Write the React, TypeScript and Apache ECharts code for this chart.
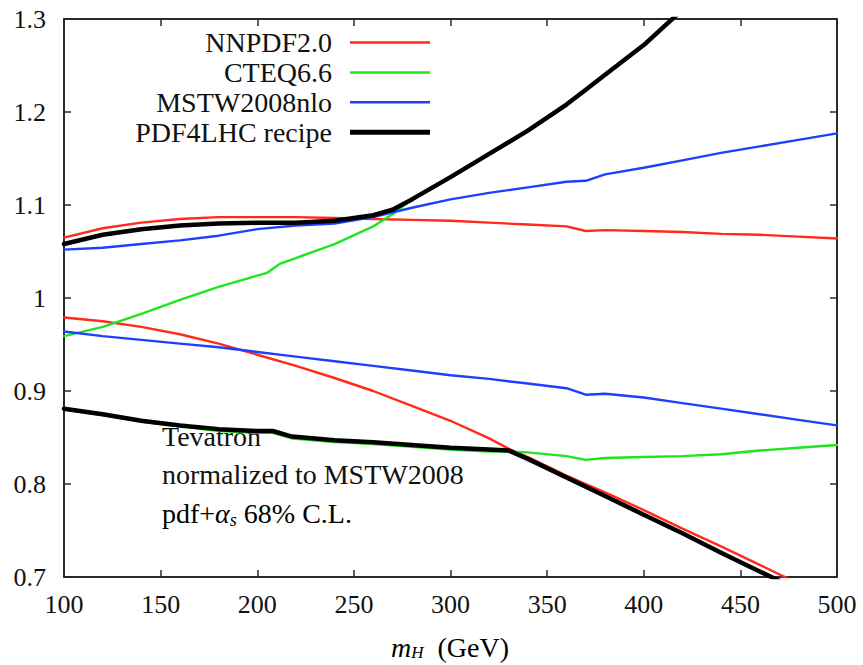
import React, { useEffect, useRef } from "react";
import * as echarts from "echarts";

// Higgs mass (GeV) vs ratio to MSTW2008 central value
const nnpdfUpper: [number, number][] = [
  [100, 1.065], [120, 1.075], [140, 1.081], [160, 1.085], [180, 1.087], [200, 1.087],
  [220, 1.087], [240, 1.086], [260, 1.085], [280, 1.084], [300, 1.083], [320, 1.081],
  [340, 1.079], [360, 1.077], [370, 1.072], [380, 1.073], [400, 1.072], [420, 1.071],
  [440, 1.069], [460, 1.068], [480, 1.066], [500, 1.064],
];
const nnpdfLower: [number, number][] = [
  [100, 0.979], [120, 0.975], [140, 0.969], [160, 0.961], [180, 0.951], [200, 0.939],
  [220, 0.927], [240, 0.914], [260, 0.9], [280, 0.884], [300, 0.868], [320, 0.849],
  [330, 0.838], [340, 0.829], [360, 0.809], [370, 0.8], [380, 0.791], [400, 0.772],
  [420, 0.752], [440, 0.733], [460, 0.713], [480, 0.693], [500, 0.673],
];
const cteqUpper: [number, number][] = [
  [100, 0.959], [120, 0.969], [140, 0.983], [160, 0.998], [180, 1.012], [200, 1.024],
  [205, 1.027], [212, 1.037], [220, 1.043], [240, 1.058], [260, 1.077], [270, 1.09],
  [280, 1.106], [300, 1.13], [320, 1.155], [340, 1.18], [360, 1.208], [370, 1.224],
  [380, 1.24], [400, 1.272], [420, 1.31], [440, 1.345], [460, 1.38], [480, 1.415], [500, 1.45],
];
const cteqLower: [number, number][] = [
  [100, 0.88], [120, 0.874], [140, 0.867], [160, 0.862], [180, 0.857], [200, 0.855],
  [208, 0.855], [218, 0.849], [240, 0.845], [260, 0.843], [280, 0.84], [300, 0.837],
  [320, 0.835], [330, 0.835], [340, 0.834], [360, 0.83], [370, 0.826], [380, 0.828],
  [400, 0.829], [420, 0.83], [440, 0.832], [460, 0.836], [480, 0.839], [500, 0.842],
];
const mstwUpper: [number, number][] = [
  [100, 1.052], [120, 1.054], [140, 1.058], [160, 1.062], [180, 1.067], [200, 1.074],
  [220, 1.078], [240, 1.08], [260, 1.087], [280, 1.097], [300, 1.106], [320, 1.113],
  [340, 1.119], [360, 1.125], [370, 1.126], [380, 1.133], [400, 1.14], [420, 1.148],
  [440, 1.156], [460, 1.163], [480, 1.17], [500, 1.177],
];
const mstwLower: [number, number][] = [
  [100, 0.964], [120, 0.959], [140, 0.955], [160, 0.951], [180, 0.947], [200, 0.942],
  [220, 0.937], [240, 0.932], [260, 0.927], [280, 0.922], [300, 0.917], [320, 0.913],
  [340, 0.908], [360, 0.903], [370, 0.896], [380, 0.897], [400, 0.893], [420, 0.887],
  [440, 0.881], [460, 0.875], [480, 0.869], [500, 0.863],
];
const pdf4lhcUpper: [number, number][] = [
  [100, 1.058], [120, 1.068], [140, 1.074], [160, 1.078], [180, 1.08], [200, 1.081],
  [220, 1.081], [240, 1.083], [250, 1.086], [260, 1.089], [270, 1.095], [280, 1.106],
  [300, 1.13], [320, 1.155], [340, 1.18], [360, 1.208], [370, 1.224], [380, 1.24],
  [400, 1.272], [420, 1.31], [440, 1.345], [460, 1.38], [480, 1.415], [500, 1.45],
];
const pdf4lhcLower: [number, number][] = [
  [100, 0.881], [120, 0.875], [140, 0.868], [160, 0.863], [180, 0.859], [200, 0.857],
  [208, 0.857], [218, 0.851], [240, 0.847], [260, 0.845], [280, 0.842], [300, 0.839],
  [320, 0.837], [330, 0.836], [340, 0.827], [360, 0.807], [370, 0.797], [380, 0.787],
  [400, 0.767], [420, 0.747], [440, 0.726], [460, 0.706], [480, 0.686], [500, 0.666],
];

const legendNames = ["NNPDF2.0", "CTEQ6.6", "MSTW2008nlo", "PDF4LHC recipe"];
const legendColors = ["#ff2a1a", "#1fe51f", "#1f3fff", "#000000"];
const annotationLines = ["Tevatron", "normalized to MSTW2008"];

const SERIF = "'Liberation Serif', 'Times New Roman', serif";

export default function App() {
  const ref = useRef<HTMLDivElement>(null);
  useEffect(() => {
    const chart = echarts.init(ref.current!, null, { renderer: "svg" });
    const mk = (name: string, data: [number, number][], color: string, width: number, z: number) => ({
      type: "line",
      name,
      data,
      showSymbol: false,
      symbol: "none",
      smooth: false,
      clip: true,
      z,
      lineStyle: { color, width, cap: "round", join: "round" },
    });
    const axisCommon = {
      type: "value",
      splitLine: { show: false },
      axisLine: { show: true, onZero: false, lineStyle: { color: "#2a2a2a", width: 2 } },
      axisTick: { show: true, inside: true, length: 7, lineStyle: { color: "#2a2a2a", width: 1.5 } },
    };
    chart.setOption({
      animation: false,
      backgroundColor: "#ffffff",
      grid: { left: 64, right: 26, top: 19, bottom: 88 },
      xAxis: [
        {
          ...axisCommon,
          min: 100,
          max: 500,
          interval: 50,
          position: "bottom",
          axisLabel: { color: "#111", fontFamily: SERIF, fontSize: 26, margin: 14 },
        },
        {
          ...axisCommon,
          min: 100,
          max: 500,
          interval: 50,
          position: "top",
          axisLabel: { show: false },
        },
      ],
      yAxis: [
        {
          ...axisCommon,
          min: 0.7,
          max: 1.3,
          interval: 0.1,
          position: "left",
          axisLabel: {
            color: "#111",
            fontFamily: SERIF,
            fontSize: 26,
            margin: 18,
            formatter: (v: number) => String(Math.round(v * 10) / 10),
          },
        },
        {
          ...axisCommon,
          min: 0.7,
          max: 1.3,
          interval: 0.1,
          position: "right",
          axisLabel: { show: false },
        },
      ],
      series: [
        mk("NNPDF2.0", nnpdfUpper, legendColors[0], 2.4, 2),
        mk("NNPDF2.0", nnpdfLower, legendColors[0], 2.4, 2),
        mk("CTEQ6.6", cteqUpper, legendColors[1], 2.4, 2),
        mk("CTEQ6.6", cteqLower, legendColors[1], 2.4, 2),
        mk("MSTW2008nlo", mstwUpper, legendColors[2], 2.4, 2),
        mk("MSTW2008nlo", mstwLower, legendColors[2], 2.4, 2),
        mk("PDF4LHC recipe", pdf4lhcUpper, legendColors[3], 4.5, 3),
        mk("PDF4LHC recipe", pdf4lhcLower, legendColors[3], 4.5, 3),
      ],
      graphic: [
        ...legendNames.map((n, i) => ({
          type: "text",
          z: 10,
          x: 332,
          y: 42.5 + i * 29.9,
          style: {
            text: n,
            fill: "#111",
            font: `28px ${SERIF}`,
            align: "right",
            verticalAlign: "middle",
          },
        })),
        ...legendNames.map((n, i) => ({
          type: "line",
          z: 10,
          shape: { x1: 350, y1: 42.5 + i * 29.9, x2: 430, y2: 42.5 + i * 29.9 },
          style: { stroke: legendColors[i], lineWidth: i === 3 ? 5 : 2.5 },
        })),
        ...annotationLines.map((t, i) => ({
          type: "text",
          z: 0,
          x: 162,
          y: 436 + i * 38.5,
          style: {
            text: t,
            fill: "#111",
            font: `28px ${SERIF}`,
            align: "left",
            verticalAlign: "middle",
          },
        })),
        {
          type: "text",
          z: 0,
          x: 162,
          y: 513,
          style: {
            text: "{n|pdf+}{a|α}{s|s}{n| 68% C.L.}",
            align: "left",
            verticalAlign: "middle",
            rich: {
              n: { fontFamily: SERIF, fontSize: 28, lineHeight: 32, color: "#111" },
              a: { fontFamily: SERIF, fontSize: 28, fontStyle: "italic", lineHeight: 32, color: "#111" },
              s: { fontFamily: SERIF, fontSize: 18, fontStyle: "italic", lineHeight: 20, verticalAlign: "bottom", color: "#111" },
            },
          },
        },
        {
          type: "text",
          z: 0,
          x: 450,
          y: 647,
          style: {
            text: "{m|m}{h|H}{n|  (GeV)}",
            align: "center",
            verticalAlign: "middle",
            rich: {
              m: { fontFamily: SERIF, fontSize: 28, fontStyle: "italic", lineHeight: 28, color: "#111" },
              h: { fontFamily: SERIF, fontSize: 17, fontStyle: "italic", lineHeight: 18, verticalAlign: "bottom", color: "#111" },
              n: { fontFamily: SERIF, fontSize: 28, lineHeight: 28, color: "#111" },
            },
          },
        },
      ],
    });
    return () => chart.dispose();
  }, []);
  return (
    <div
      ref={ref}
      style={{ position: "fixed", left: 0, top: 0, width: 863, height: 665, background: "#fff" }}
    />
  );
}
